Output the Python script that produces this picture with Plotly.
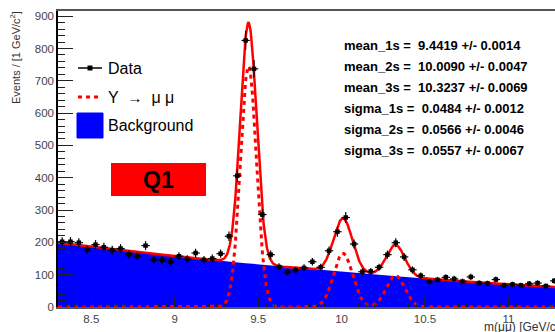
import numpy as np
import plotly.graph_objects as go

# ---------------- data ----------------
bin_centers = [8.325, 8.375, 8.425, 8.475, 8.525, 8.575, 8.625, 8.675, 8.725, 8.775,
               8.825, 8.875, 8.925, 8.975, 9.025, 9.075, 9.125, 9.175, 9.225, 9.275,
               9.325, 9.375, 9.425, 9.475, 9.525, 9.575, 9.625, 9.675, 9.725, 9.775,
               9.825, 9.875, 9.925, 9.975, 10.025, 10.075, 10.125, 10.175, 10.225, 10.275,
               10.325, 10.375, 10.425, 10.475, 10.525, 10.575, 10.625, 10.675, 10.725, 10.775,
               10.825, 10.875, 10.925, 10.975, 11.025, 11.075, 11.125, 11.175, 11.225, 11.275]
counts = [202, 202, 199, 177, 193, 185, 176, 181, 163, 157,
          190, 146, 145, 140, 157, 148, 167, 146, 150, 165,
          219, 406, 825, 737, 286, 162, 124, 108, 114, 121,
          140, 123, 174, 233, 277, 195, 109, 110, 123, 162,
          199, 155, 115, 97, 78, 84, 92, 87, 79, 93,
          74, 73, 85, 67, 70, 67, 72, 74, 65, 81]
half_bin = 0.025

# fit results (shown on the chart) and read-off amplitudes
fit_names = ["mean_1s", "mean_2s", "mean_3s", "sigma_1s", "sigma_2s", "sigma_3s"]
fit_values = ["9.4419", "10.0090", "10.3237", "0.0484", "0.0566", "0.0557"]
fit_errors = ["0.0014", "0.0047", "0.0069", "0.0012", "0.0046", "0.0067"]
means = [9.4419, 10.0090, 10.3237]
sigmas = [0.0484, 0.0566, 0.0557]
peak_heights = [745, 166, 97]
bkg_coef = [199.0, -62.5, 5.5]   # polynomial in (m - 8.3)
m_low, m_high = 8.3, 11.3

x_ticks = [8.5, 9, 9.5, 10, 10.5, 11]
x_ticktext = ["8.5", "9", "9.5", "10", "10.5", "11"]
y_ticks = [0, 100, 200, 300, 400, 500, 600, 700, 800, 900]

# ---------------- model curves ----------------
m = np.linspace(m_low, m_high, 1501)
t = m - m_low
bkg = bkg_coef[0] + bkg_coef[1] * t + bkg_coef[2] * t ** 2
sig = np.zeros_like(m)
for mu, s, h in zip(means, sigmas, peak_heights):
    sig += h * np.exp(-0.5 * ((m - mu) / s) ** 2)
total = bkg + sig

FONT = "Liberation Sans, Arial, Helvetica, sans-serif"
W, H = 555, 332
L, R, T, B = 58, 0, 11, 25
PW, PH = W - L - R, H - T - B


def px(xp):
    return (xp - L) / PW


def py(yp):
    return (H - B - yp) / PH


fig = go.Figure()
fig.add_trace(go.Scatter(x=m, y=bkg, mode="lines", fill="tozeroy",
                         fillcolor="#0000ff", line=dict(width=0, color="#0000ff"),
                         hoverinfo="skip", showlegend=False))
fig.add_trace(go.Scatter(x=m, y=sig, mode="lines",
                         line=dict(color="#ff0000", width=3, dash="4px,4px"),
                         hoverinfo="skip", showlegend=False))
fig.add_trace(go.Scatter(x=m, y=total, mode="lines",
                         line=dict(color="#ff0000", width=2.5),
                         hoverinfo="skip", showlegend=False))
fig.add_trace(go.Scatter(
    x=bin_centers, y=counts, mode="markers",
    marker=dict(symbol="square", size=4.5, color="black"),
    error_y=dict(type="data", array=list(np.sqrt(counts)), width=0, thickness=1.2, color="black"),
    error_x=dict(type="data", array=[half_bin] * len(counts), width=0, thickness=1.2, color="black"),
    showlegend=False))

shapes = []
annotations = []

# legend
shapes.append(dict(type="line", xref="paper", yref="paper", x0=px(78), x1=px(102), y0=py(68), y1=py(68),
                   line=dict(color="black", width=1.5)))
shapes.append(dict(type="rect", xref="paper", yref="paper", x0=px(87.5), x1=px(92.5), y0=py(70.5), y1=py(65.5),
                   fillcolor="black", line=dict(width=0)))
shapes.append(dict(type="line", xref="paper", yref="paper", x0=px(78), x1=px(101), y0=py(97), y1=py(97),
                   line=dict(color="#ff0000", width=3, dash="4px,4px")))
shapes.append(dict(type="rect", xref="paper", yref="paper", x0=px(77), x1=px(103), y0=py(138), y1=py(113),
                   fillcolor="#0000ff", line=dict(color="#0000ff", width=1)))
annotations.append(dict(xref="paper", yref="paper", x=px(106), y=py(68), xanchor="left", yanchor="middle",
                        text="Data", showarrow=False, font=dict(family=FONT, size=16, color="black")))
annotations.append(dict(xref="paper", yref="paper", x=px(106), y=py(97), xanchor="left", yanchor="middle",
                        text="\u03a5\u00a0\u00a0<span style='font-size:15px'>\u2192</span>\u00a0\u00a0\u03bc\u00a0\u03bc",
                        showarrow=False, font=dict(family=FONT, size=16, color="black")))
annotations.append(dict(xref="paper", yref="paper", x=px(106), y=py(126), xanchor="left", yanchor="middle",
                        text="Background", showarrow=False, font=dict(family=FONT, size=16, color="black")))

# Q1 box
shapes.append(dict(type="rect", xref="paper", yref="paper", x0=px(111), x1=px(206), y0=py(196), y1=py(163),
                   fillcolor="#ff0000", line=dict(width=0)))
annotations.append(dict(xref="paper", yref="paper", x=px(158.5), y=py(179.5), xanchor="center", yanchor="middle",
                        text="<b>Q1</b>", showarrow=False, font=dict(family=FONT, size=23, color="black")))

# fit parameter box
line_y = [45, 66, 87, 108, 129, 150]
for name, val, err, yy in zip(fit_names, fit_values, fit_errors, line_y):
    annotations.append(dict(xref="paper", yref="paper", x=px(342), y=py(yy), xanchor="left", yanchor="middle",
                            text="<b>" + name + " =\u00a0\u00a0" + val + " +/- " + err + "</b>",
                            showarrow=False, font=dict(family=FONT, size=13, color="black")))

# axis titles
annotations.append(dict(xref="paper", yref="paper", x=px(15), y=py(58), xanchor="center", yanchor="middle",
                        textangle=-90, text="Events / [1 GeV/c<sup>2</sup>]", showarrow=False,
                        font=dict(family=FONT, size=11, color="#333333")))
annotations.append(dict(xref="paper", yref="paper", x=px(482), y=py(326), xanchor="left", yanchor="middle",
                        text="m(\u03bc\u03bc) [GeV/c<sup>2</sup>]", showarrow=False,
                        font=dict(family=FONT, size=12, color="#333333")))

fig.update_layout(
    width=W, height=H,
    margin=dict(l=L, r=R, t=T, b=B, pad=0),
    paper_bgcolor="white", plot_bgcolor="white",
    showlegend=False,
    shapes=shapes, annotations=annotations,
    xaxis=dict(range=[m_low, m_low + PW / 166.8], tickvals=x_ticks, ticktext=x_ticktext,
               ticks="inside", ticklen=9, tickwidth=1, tickcolor="#222",
               minor=dict(ticks="inside", ticklen=4, dtick=0.05, tick0=8.3, tickcolor="#222", showgrid=False),
               showline=True, linecolor="#555", linewidth=1.5, mirror=True,
               showgrid=False, zeroline=False,
               tickfont=dict(family=FONT, size=11.5, color="#444")),
    yaxis=dict(range=[0, 916], tickvals=y_ticks,
               ticks="inside", ticklen=15, tickwidth=1, tickcolor="#222",
               minor=dict(ticks="inside", ticklen=7, dtick=20, tick0=0, tickcolor="#222", showgrid=False),
               showline=True, linecolor="black", linewidth=1.5,
               showgrid=False, zeroline=False,
               tickfont=dict(family=FONT, size=11.5, color="#444")),
)

fig.write_html("out.html", config={"displayModeBar": False},
               post_script="document.body.style.margin='0';")
